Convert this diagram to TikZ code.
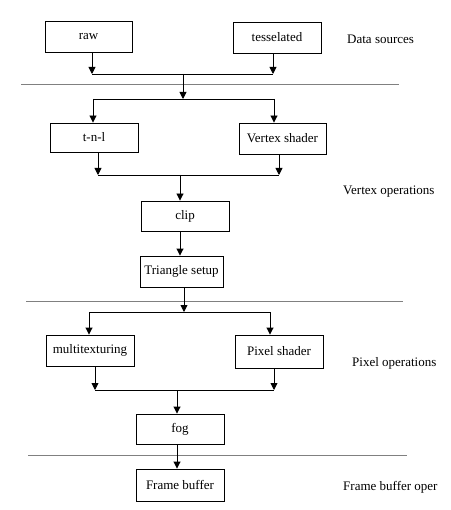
\documentclass[tikz,border=0pt]{standalone}
\usepackage{fontspec}
\setmainfont{Liberation Serif}
\usetikzlibrary{arrows.meta}
\tikzset{
  stagebox/.style={draw=black, line width=0.9pt, fill=white, inner sep=0pt, font=\fontsize{13}{15}\selectfont},
  arr/.style={draw=black, line width=0.9pt, -{Triangle[width=7pt,length=7pt]}},
  ln/.style={draw=black, line width=0.9pt},
  sep/.style={draw=gray, line width=1pt},
  lbl/.style={anchor=west, inner sep=0pt, font=\fontsize{13}{15}\selectfont}
}
\begin{document}
\begin{tikzpicture}[x=1pt,y=-1pt]
\useasboundingbox (0,0) rectangle (450,510);
% boxes
\node[stagebox, minimum width=87pt, minimum height=31pt] (raw) at (88.5,36.5) {raw};
\node[stagebox, minimum width=88pt, minimum height=31pt] (tess) at (277,37.5) {tesselated};
\node[stagebox, minimum width=88pt, minimum height=29pt] (tnl) at (94,137.5) {t-n-l};
\node[stagebox, minimum width=87pt, minimum height=31pt] (vs) at (282.5,138.5) {Vertex shader};
\node[stagebox, minimum width=88pt, minimum height=30pt] (clip) at (185,216) {clip};
\node[stagebox, minimum width=83pt, minimum height=31pt] (tri) at (181.5,271.5) {Triangle setup};
\node[stagebox, minimum width=88pt, minimum height=31pt] (multi) at (90,350.5) {multitexturing};
\node[stagebox, minimum width=88pt, minimum height=33pt] (pix) at (279,351.5) {Pixel shader};
\node[stagebox, minimum width=88pt, minimum height=30pt] (fog) at (180,429) {fog};
\node[stagebox, minimum width=88pt, minimum height=32pt] (fb) at (180,485) {Frame buffer};
% labels
\node[lbl] (l1) at (347,39) {Data sources};
\node[lbl] (l2) at (343,192) {Vertex operations};
\node[lbl] (l3) at (352,363) {Pixel operations};
\node[lbl] (l4) at (343,487) {Frame buffer oper};
% separators
\coordinate (s1a) at (21,85);  \coordinate (s1b) at (399,85);
\coordinate (s2a) at (26,301); \coordinate (s2b) at (403,301);
\coordinate (s3a) at (28,455); \coordinate (s3b) at (407,455);
\draw[sep] (s1a) -- (s1b);
\draw[sep] (s2a) -- (s2b);
\draw[sep] (s3a) -- (s3b);
% merge/split points
\coordinate (m1l) at (92,74);  \coordinate (m1r) at (273,74); \coordinate (m1c) at (183,74);
\coordinate (d1l) at (93,99);  \coordinate (d1r) at (274,99); \coordinate (d1c) at (183,99);
\coordinate (m2l) at (98,175); \coordinate (m2r) at (279,175); \coordinate (m2c) at (180,175);
\coordinate (d2l) at (89,312); \coordinate (d2r) at (270,312); \coordinate (d2c) at (184,312);
\coordinate (m3l) at (95,390); \coordinate (m3r) at (274,390); \coordinate (m3c) at (177,390);
% top stage
\draw[arr] (raw.south -| m1l) -- (m1l);
\draw[arr] (tess.south -| m1r) -- (m1r);
\draw[ln] (m1l) -- (m1r);
\draw[arr] (m1c) -- (d1c);
\draw[ln] (d1l) -- (d1r);
\draw[arr] (d1l) -- (d1l |- tnl.north);
\draw[arr] (d1r) -- (d1r |- vs.north);
% vertex stage
\draw[arr] (tnl.south -| m2l) -- (m2l);
\draw[arr] (vs.south -| m2r) -- (m2r);
\draw[ln] (m2l) -- (m2r);
\draw[arr] (m2c) -- (m2c |- clip.north);
\draw[arr] (clip.south -| m2c) -- (m2c |- tri.north);
\draw[arr] (tri.south -| d2c) -- (d2c);
\draw[ln] (d2l) -- (d2r);
\draw[arr] (d2l) -- (d2l |- multi.north);
\draw[arr] (d2r) -- (d2r |- pix.north);
% pixel stage
\draw[arr] (multi.south -| m3l) -- (m3l);
\draw[arr] (pix.south -| m3r) -- (m3r);
\draw[ln] (m3l) -- (m3r);
\draw[arr] (m3c) -- (m3c |- fog.north);
\draw[arr] (fog.south -| m3c) -- (m3c |- fb.north);
\end{tikzpicture}
\end{document}
